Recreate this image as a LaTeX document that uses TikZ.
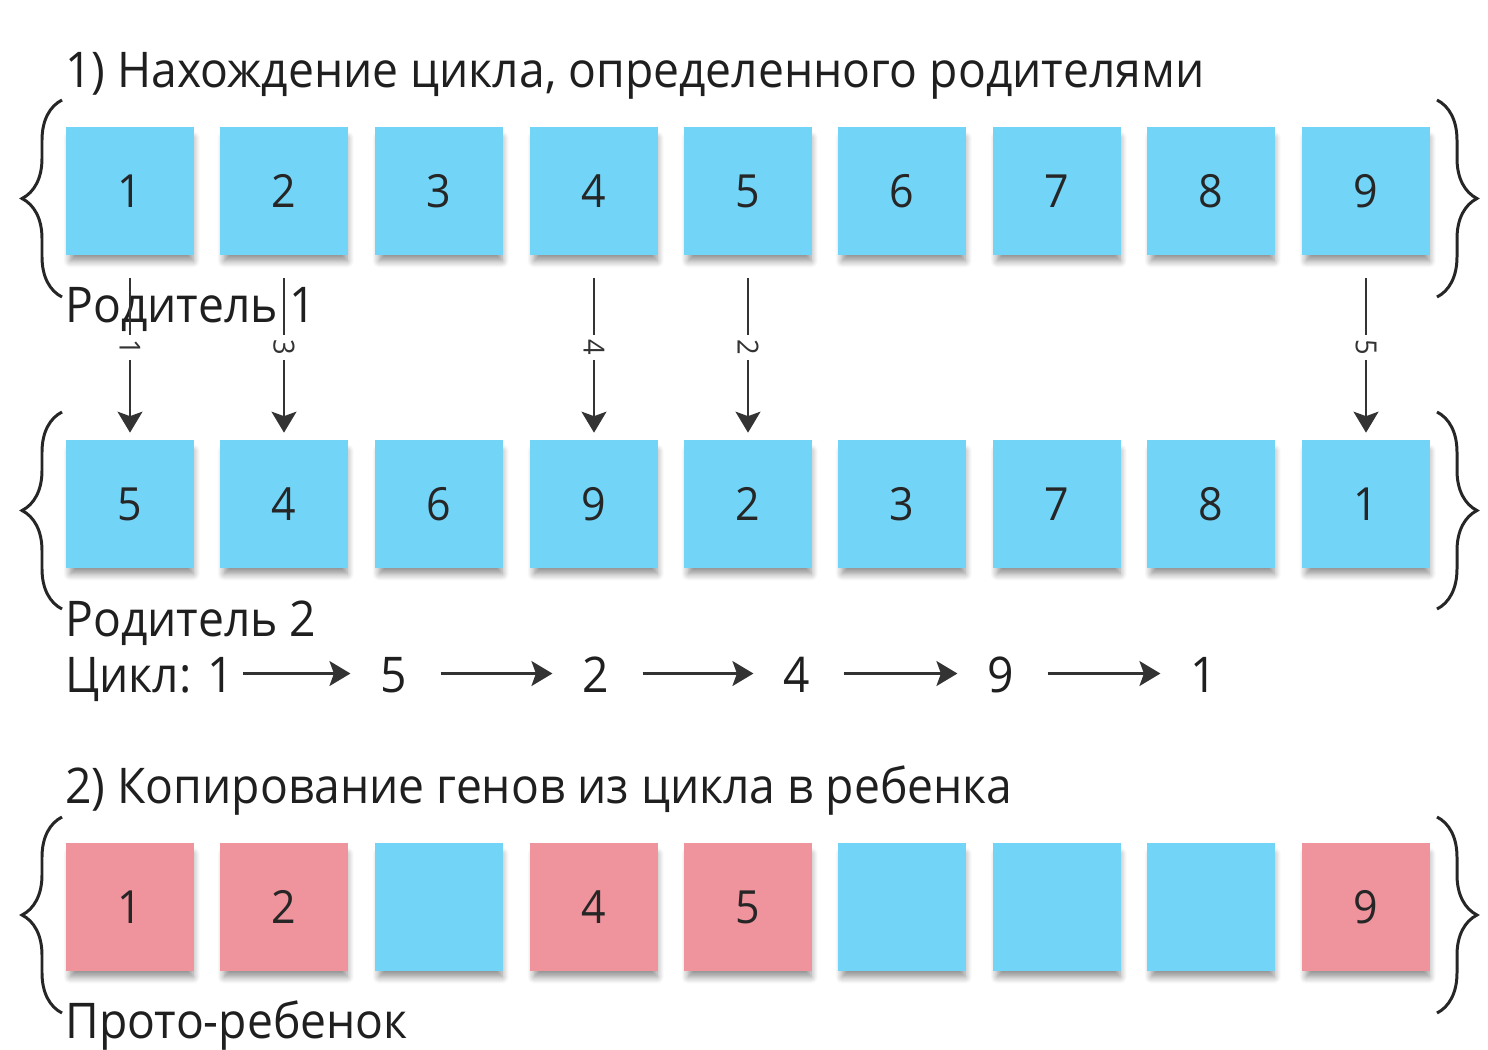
\documentclass[tikz,border=0pt]{standalone}
\usepackage{fontspec}
\setmainfont{Open Sans}[FakeStretch=0.94]
\usetikzlibrary{arrows.meta,decorations.pathreplacing,shadows.blur}
\definecolor{stickblue}{HTML}{72D5F8}
\definecolor{stickpink}{HTML}{EF939C}
\definecolor{inkgray}{HTML}{333333}
\tikzset{
  note/.style={fill=stickblue, minimum size=2.56cm, inner sep=0,
    font=\fontsize{26}{30}\selectfont, text=black!85,
    blur shadow={shadow xshift=1pt, shadow yshift=-5pt, shadow scale=0.96,
      shadow opacity=45, shadow blur radius=4pt, shadow blur steps=8}},
  hot/.style={note, fill=stickpink},
  caption/.style={anchor=base west, inner sep=0, font=\fontsize{28}{32}\selectfont, text=black!88},
  gene/.style={anchor=base, inner sep=0, text height=0.74cm, text depth=0pt,
    font=\fontsize{28}{32}\selectfont, text=black!88},
  pass/.style={-{Stealth[length=0.42cm,width=0.5cm,inset=0.09cm]}, line width=1.25pt, inkgray},
  tag/.style={fill=white, rotate=-90, inner sep=2.5pt, font=\fontsize{16.5}{18}\selectfont, text=inkgray},
  curly/.style={decorate, decoration={brace, amplitude=0.8cm}, line width=1.7pt, black!85},
}
\begin{document}
\begin{tikzpicture}[x=0.02cm,y=-0.02cm]
\useasboundingbox (0,0) rectangle (1488,1049);
% parent 1
\node[note] (A1) at (130,191) {1};
\node[note] (A2) at (284,191) {2};
\node[note] (A3) at (439,191) {3};
\node[note] (A4) at (594,191) {4};
\node[note] (A5) at (748,191) {5};
\node[note] (A6) at (902,191) {6};
\node[note] (A7) at (1057,191) {7};
\node[note] (A8) at (1211,191) {8};
\node[note] (A9) at (1366,191) {9};
% parent 2
\node[note] (B1) at (130,504) {5};
\node[note] (B2) at (284,504) {4};
\node[note] (B3) at (439,504) {6};
\node[note] (B4) at (594,504) {9};
\node[note] (B5) at (748,504) {2};
\node[note] (B6) at (902,504) {3};
\node[note] (B7) at (1057,504) {7};
\node[note] (B8) at (1211,504) {8};
\node[note] (B9) at (1366,504) {1};
% proto child
\node[hot] (P1) at (130,907) {1};
\node[hot] (P2) at (284,907) {2};
\node[note] (P3) at (439,907) {};
\node[hot] (P4) at (594,907) {4};
\node[hot] (P5) at (748,907) {5};
\node[note] (P6) at (902,907) {};
\node[note] (P7) at (1057,907) {};
\node[note] (P8) at (1211,907) {};
\node[hot] (P9) at (1366,907) {9};
% braces
\draw[curly] (62,297) -- (62,100);
\draw[curly] (1437,100) -- (1437,297);
\draw[curly] (62,609) -- (62,412);
\draw[curly] (1437,412) -- (1437,609);
\draw[curly] (62,1013) -- (62,817);
\draw[curly] (1437,817) -- (1437,1013);
% captions
\node[caption] (T1) at (65,87) {1) Нахождение цикла, определенного родителями};
\node[caption] (T2) at (65,322) {Родитель 1};
\node[caption] (T3) at (65,636) {Родитель 2};
\node[caption] (T4) at (65,803) {2) Копирование генов из цикла в ребенка};
\node[caption] (T5) at (65,1038) {Прото-ребенок};
% positions
\draw[pass, shorten <=0.46cm, shorten >=0.14cm] (A1.south) -- node[tag]{1} (B1.north);
\draw[pass, shorten <=0.46cm, shorten >=0.14cm] (A2.south) -- node[tag]{3} (B2.north);
\draw[pass, shorten <=0.46cm, shorten >=0.14cm] (A4.south) -- node[tag]{4} (B4.north);
\draw[pass, shorten <=0.46cm, shorten >=0.14cm] (A5.south) -- node[tag]{2} (B5.north);
\draw[pass, shorten <=0.46cm, shorten >=0.14cm] (A9.south) -- node[tag]{5} (B9.north);
% cycle
\node[gene, anchor=base west] (C0) at (65,692) {Цикл: 1};
\node[gene] (C1) at (394,692) {5};
\node[gene] (C2) at (596,692) {2};
\node[gene] (C3) at (797,692) {4};
\node[gene] (C4) at (1001,692) {9};
\node[gene] (C5) at (1204,692) {1};
\draw[pass, shorten <=0.18cm, shorten >=0.6cm] (C0) -- (C1);
\draw[pass, shorten <=0.66cm, shorten >=0.6cm] (C1) -- (C2);
\draw[pass, shorten <=0.66cm, shorten >=0.6cm] (C2) -- (C3);
\draw[pass, shorten <=0.66cm, shorten >=0.6cm] (C3) -- (C4);
\draw[pass, shorten <=0.66cm, shorten >=0.6cm] (C4) -- (C5);
\end{tikzpicture}
\end{document}
